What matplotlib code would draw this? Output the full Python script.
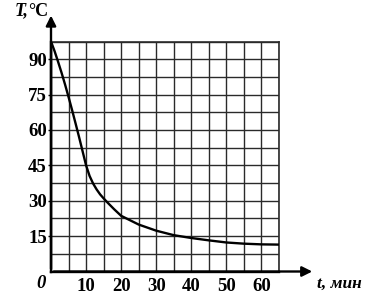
import matplotlib
matplotlib.use("Agg")
import matplotlib.pyplot as plt
import numpy as np

# cooling curve
t_min = [0, 1, 2, 3, 4, 5, 6, 7, 8, 9, 10, 11, 12, 13, 14, 15, 16, 18, 20,
         25, 30, 35, 40, 45, 50, 55, 60, 65]
temp_c = [97.5, 93.5, 89, 84.3, 79.3, 74, 68.5, 62.8, 57, 51, 45, 40.5, 37.3, 34.8,
          32.7, 31, 29.4, 26.4, 23.6, 19.9, 17.3, 15.4, 14.2, 13.2, 12.3, 11.8, 11.5, 11.4]

x_ticks = [10, 20, 30, 40, 50, 60]
y_ticks = [15, 30, 45, 60, 75, 90]

plt.rcParams["font.family"] = ["Liberation Serif", "DejaVu Serif"]
plt.rcParams["font.weight"] = "bold"

fig = plt.figure(figsize=(3.65, 2.95), dpi=100)
ax = fig.add_axes([51 / 365, 23.5 / 295, 228 / 365, 230 / 295])

ax.plot(t_min, temp_c, color="black", lw=1.7, zorder=3)

ax.set_xlim(0, 65)
ax.set_ylim(0, 97.5)
ax.set_xticks(x_ticks)
ax.set_yticks(y_ticks)
ax.set_xticks(np.arange(0, 66, 5), minor=True)
ax.set_yticks(np.arange(0, 98, 7.5), minor=True)
ax.grid(which="both", color="#2a2a2a", lw=1.0)
ax.set_axisbelow(True)

ax.tick_params(which="minor", length=0)
ax.tick_params(axis="x", which="major", length=0, pad=5, labelsize=13.5)
ax.tick_params(axis="y", which="major", length=2, width=1, pad=1, labelsize=13.5)

for side in ["top", "right"]:
    ax.spines[side].set_color("#2a2a2a")
    ax.spines[side].set_linewidth(1.2)
for side in ["left", "bottom"]:
    ax.spines[side].set_linewidth(1.7)

# axis arrows
ax.annotate("", xy=(0, 1.125), xytext=(0, 0), xycoords="axes fraction",
            arrowprops=dict(arrowstyle="-|>", color="black", lw=1.7, mutation_scale=15))
ax.annotate("", xy=(1.158, 0), xytext=(0, 0), xycoords="axes fraction",
            arrowprops=dict(arrowstyle="-|>", color="black", lw=1.7, mutation_scale=15))

fig.text(41 / 365, 1 - 283 / 295, "0", style="italic", fontsize=13.5, ha="center", va="center")
fig.text(15 / 365, 1 - 11 / 295, "T,", style="italic", fontsize=13, ha="left", va="center")
fig.text(28 / 365, 1 - 11 / 295, "°C", fontsize=13, ha="left", va="center")
fig.text(317 / 365, 1 - 284 / 295, "t, мин", style="italic", fontsize=12.5, ha="left", va="center")

fig.savefig("out.png", dpi=100)
